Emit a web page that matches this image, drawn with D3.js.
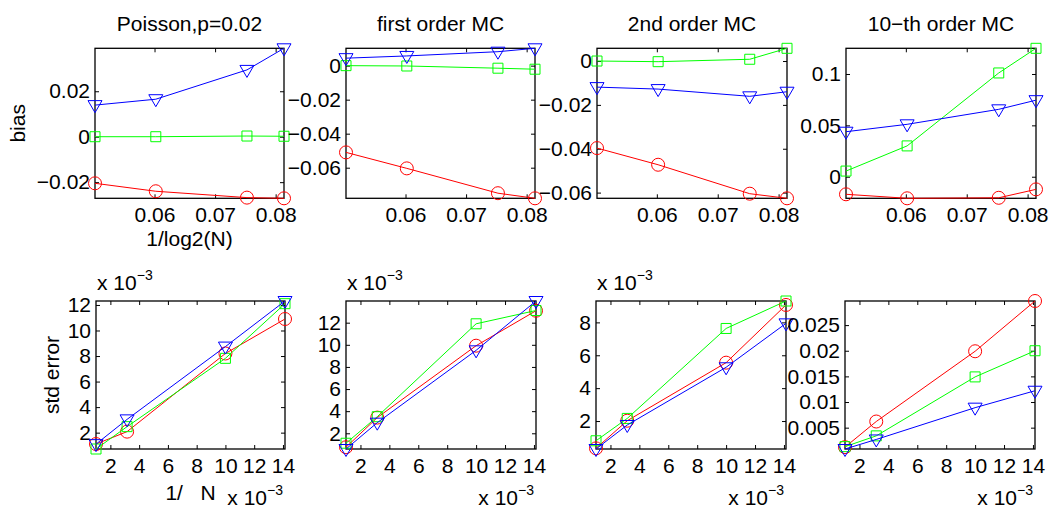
<!DOCTYPE html>
<html>
<head>
<meta charset="utf-8">
<script src="https://cdn.jsdelivr.net/npm/d3@7"></script>
<style>
  html, body { margin: 0; padding: 0; background: #fff; }
  text { font-family: "Liberation Sans", Arial, Helvetica, sans-serif; fill: #000; }
</style>
</head>
<body>
<svg id="chart" width="1050" height="512"></svg>
<script>
// ---------------- data ----------------
const titles = ["Poisson,p=0.02", "first order MC", "2nd order MC", "10\u2212th order MC"];
const xBias = [0.05017, 0.06021, 0.07526, 0.08138];      // 1/log2(N)
const xStd  = [0.001, 0.003162, 0.01, 0.014142];          // 1/sqrt(N)

// bias (top row), one inner array per panel
const biasRed = [
  [-0.0205, -0.0240, -0.0268, -0.0271],
  [-0.0510, -0.0604, -0.0750, -0.0780],
  [-0.0397, -0.0473, -0.0605, -0.0626],
  [-0.0171, -0.0210, -0.0205, -0.0123]
];
const biasGreen = [
  [0.0000, 0.0000, 0.0003, 0.0002],
  [0.0000, -0.0002, -0.0015, -0.0021],
  [0.0000, -0.0003, 0.0008, 0.0058],
  [0.0055, 0.0300, 0.1010, 0.1250]
];
const biasBlue = [
  [0.0139, 0.0165, 0.0294, 0.0389],
  [0.0044, 0.0057, 0.0082, 0.0102],
  [-0.0119, -0.0128, -0.0161, -0.0140],
  [0.0438, 0.0510, 0.0656, 0.0745]
];

// std error (bottom row)
const stdRed = [
  [0.00111, 0.00208, 0.00820, 0.01090],
  [0.00074, 0.00342, 0.00992, 0.01308],
  [0.00034, 0.00202, 0.00555, 0.00906],
  [0.0012, 0.0062, 0.0199, 0.0297]
];
const stdGreen = [
  [0.00072, 0.00247, 0.00782, 0.01210],
  [0.00110, 0.00350, 0.01190, 0.01310],
  [0.00080, 0.00216, 0.00763, 0.00930],
  [0.0013, 0.0034, 0.0149, 0.0200]
];
const stdBlue = [
  [0.00110, 0.00304, 0.00874, 0.01231],
  [0.00058, 0.00296, 0.00950, 0.01396],
  [0.00030, 0.00176, 0.00527, 0.00794],
  [0.00084, 0.0027, 0.0089, 0.0122]
];

// ticks
const biasXTicks = [0.06, 0.07, 0.08];
const biasYTicks = [
  [-0.02, 0, 0.02],
  [-0.06, -0.04, -0.02, 0],
  [-0.06, -0.04, -0.02, 0],
  [0, 0.05, 0.1]
];
const stdXTicks = [0.002, 0.004, 0.006, 0.008, 0.010, 0.012, 0.014];
const stdYTicks = [
  [0.002, 0.004, 0.006, 0.008, 0.010, 0.012],
  [0.002, 0.004, 0.006, 0.008, 0.010, 0.012],
  [0.002, 0.004, 0.006, 0.008],
  [0.005, 0.010, 0.015, 0.020, 0.025]
];
const stdYScaled = [true, true, true, false];

const seriesColors = ["#ff0000", "#00ff00", "#0000ff"];
const seriesMarkers = ["circle", "square", "triangle"];

// ---------------- layout ----------------
const topBoxes = [[95, 284], [346, 535], [597, 787], [846, 1036]];
const topY = [48.3, 198.3];
const botBoxes = [[96, 285], [346, 536], [596, 786], [845, 1035]];
const botY = [301, 449];
const FS = 21;

const svg = d3.select("#chart");
svg.append("rect").attr("width", 1050).attr("height", 512).attr("fill", "#fff");

function fmt(v) {
  const r = Math.round(v * 1e6) / 1e6;
  return String(r).replace("-", "\u2212");
}

function markerPath(type) {
  if (type === "triangle") return "M-7,-4.5L7,-4.5L0,7.5Z";
  if (type === "square") return "M-5,-5L5,-5L5,5L-5,5Z";
  return null;
}

function drawPanel(opt) {
  const { x0, x1, y0, y1, xs, series, xTicks, yTicks, xFmt, yFmt } = opt;
  const allY = series.flat();
  const x = d3.scaleLinear().domain(d3.extent(xs)).range([x0, x1]);
  const y = d3.scaleLinear().domain(d3.extent(allY)).range([y1, y0]);
  const g = svg.append("g");

  // axes with inward ticks (mirrored)
  const tl = 4;
  const ax = [
    d3.axisBottom(x).tickValues(xTicks).tickFormat(xFmt).tickSizeInner(-tl).tickSizeOuter(0).tickPadding(9),
    d3.axisTop(x).tickValues(xTicks).tickFormat("").tickSizeInner(-tl).tickSizeOuter(0),
    d3.axisLeft(y).tickValues(yTicks).tickFormat(yFmt).tickSizeInner(-tl).tickSizeOuter(0).tickPadding(5),
    d3.axisRight(y).tickValues(yTicks).tickFormat("").tickSizeInner(-tl).tickSizeOuter(0)
  ];
  const tr = [`translate(0,${y1})`, `translate(0,${y0})`, `translate(${x0},0)`, `translate(${x1},0)`];
  ax.forEach((a, i) => {
    const ag = g.append("g").attr("transform", tr[i]).call(a);
    ag.select(".domain").remove();
    ag.selectAll("line").attr("stroke", "#000").attr("stroke-width", 1);
    ag.selectAll("text").attr("font-size", FS).attr("font-family", "Liberation Sans, Arial, sans-serif").attr("fill", "#000");
  });
  g.append("rect").attr("x", x0).attr("y", y0).attr("width", x1 - x0).attr("height", y1 - y0)
    .attr("fill", "none").attr("stroke", "#000").attr("stroke-width", 1.3);

  const line = d3.line().x((d, i) => x(xs[i])).y(d => y(d));
  series.forEach((vals, s) => {
    const c = seriesColors[s];
    g.append("path").attr("d", line(vals)).attr("fill", "none").attr("stroke", c).attr("stroke-width", 1);
    const type = seriesMarkers[s];
    vals.forEach((v, i) => {
      if (type === "circle") {
        g.append("circle").attr("cx", x(xs[i])).attr("cy", y(v)).attr("r", 6.5)
          .attr("fill", "none").attr("stroke", c).attr("stroke-width", 1);
      } else {
        g.append("path").attr("d", markerPath(type))
          .attr("transform", `translate(${x(xs[i])},${y(v)})`)
          .attr("fill", "none").attr("stroke", c).attr("stroke-width", 1);
      }
    });
  });
  return { x, y };
}

// top row: bias
for (let p = 0; p < 4; p++) {
  const [x0, x1] = topBoxes[p];
  drawPanel({
    x0, x1, y0: topY[0], y1: topY[1], xs: xBias,
    series: [biasRed[p], biasGreen[p], biasBlue[p]],
    xTicks: biasXTicks, yTicks: biasYTicks[p], xFmt: fmt, yFmt: fmt
  });
  svg.append("text").attr("x", (x0 + x1) / 2).attr("y", 31).attr("text-anchor", "middle")
    .attr("font-size", FS).text(titles[p]);
}

// bottom row: std error
for (let p = 0; p < 4; p++) {
  const [x0, x1] = botBoxes[p];
  drawPanel({
    x0, x1, y0: botY[0], y1: botY[1], xs: xStd,
    series: [stdRed[p], stdGreen[p], stdBlue[p]],
    xTicks: stdXTicks, yTicks: stdYTicks[p],
    xFmt: v => fmt(v * 1000),
    yFmt: stdYScaled[p] ? (v => fmt(v * 1000)) : fmt
  });
  // x exponent label, bottom right
  const tx = svg.append("text").attr("x", x1 - 2).attr("y", 505).attr("text-anchor", "end").attr("font-size", FS);
  tx.append("tspan").text("x 10");
  tx.append("tspan").attr("dy", -10).attr("font-size", 14).text("\u22123");
  // y exponent label, top left
  if (stdYScaled[p]) {
    const ty = svg.append("text").attr("x", x0 + 1).attr("y", 290).attr("font-size", FS);
    ty.append("tspan").text("x 10");
    ty.append("tspan").attr("dy", -10).attr("font-size", 14).text("\u22123");
  }
}

// axis labels
svg.append("text").attr("x", (topBoxes[0][0] + topBoxes[0][1]) / 2).attr("y", 246)
  .attr("text-anchor", "middle").attr("font-size", FS).text("1/log2(N)");
svg.append("text").attr("transform", `translate(25,${(topY[0] + topY[1]) / 2}) rotate(-90)`)
  .attr("text-anchor", "middle").attr("font-size", FS).text("bias");
svg.append("text").attr("x", (botBoxes[0][0] + botBoxes[0][1]) / 2).attr("y", 500)
  .attr("text-anchor", "middle").attr("font-size", FS).attr("xml:space", "preserve")
  .style("white-space", "pre").text("1/   N");
svg.append("text").attr("transform", `translate(59,${(botY[0] + botY[1]) / 2}) rotate(-90)`)
  .attr("text-anchor", "middle").attr("font-size", FS).text("std error");
</script>
</body>
</html>
